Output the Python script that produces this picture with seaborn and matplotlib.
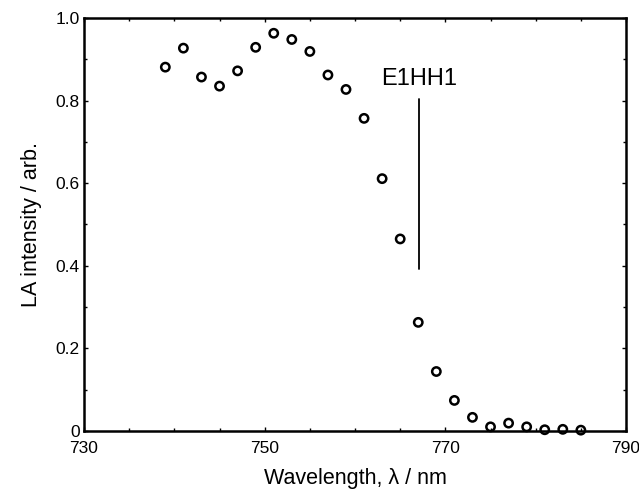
import numpy as np
import pandas as pd
import matplotlib
matplotlib.use("Agg")
import matplotlib.pyplot as plt
from matplotlib.ticker import MultipleLocator, FixedLocator, FuncFormatter
import seaborn as sns

# data
wavelength = [739, 741, 743, 745, 747, 749, 751, 753, 755, 757, 759, 761,
              763, 765, 767, 769, 771, 773, 775, 777, 779, 781, 783, 785]
intensity = [0.881, 0.927, 0.857, 0.835, 0.872, 0.929, 0.963, 0.948, 0.919,
             0.862, 0.827, 0.757, 0.611, 0.465, 0.263, 0.144, 0.074, 0.033,
             0.010, 0.019, 0.010, 0.003, 0.004, 0.002]
x_ticks = [730, 750, 770, 790]
marker_x = 767.1
marker_y = [0.392, 0.803]
marker_label = "E1HH1"

df = pd.DataFrame({"wl": wavelength, "la": intensity})

sns.set_style("ticks")
plt.rcParams['font.family'] = ['Liberation Sans', 'DejaVu Sans']
plt.rcParams['xtick.direction'] = 'in'
plt.rcParams['ytick.direction'] = 'in'
plt.rcParams['text.color'] = 'black'
plt.rcParams['axes.labelcolor'] = 'black'
plt.rcParams['xtick.color'] = 'black'
plt.rcParams['ytick.color'] = 'black'

fig = plt.figure(figsize=(6.39, 4.93), dpi=100)
ax = fig.add_axes([0.1315, 0.1258, 0.8482, 0.8377])

sns.scatterplot(data=df, x="wl", y="la", ax=ax, marker="o", s=36,
                facecolor="none", edgecolor="black", linewidth=1.8, zorder=3,
                clip_on=False)

ax.plot([marker_x, marker_x], marker_y, color="black", linewidth=1.3)
ax.text(marker_x, 0.826, marker_label, ha="center", va="bottom", fontsize=17)

ax.set_xlim(730, 790)
ax.set_ylim(0, 1.0)
ax.xaxis.set_major_locator(FixedLocator(x_ticks))
ax.xaxis.set_minor_locator(MultipleLocator(5))
ax.yaxis.set_major_locator(MultipleLocator(0.2))
ax.yaxis.set_minor_locator(MultipleLocator(0.1))
ax.yaxis.set_major_formatter(FuncFormatter(lambda v, p: "0" if abs(v) < 1e-9 else f"{v:.1f}"))

ax.tick_params(which="both", top=True, right=True, labelsize=12.5)
ax.tick_params(axis="x", which="major", pad=7)
ax.tick_params(axis="y", which="major", pad=3)
ax.tick_params(which="major", length=3, width=1)
ax.tick_params(which="minor", length=2, width=1)
for sp in ax.spines.values():
    sp.set_linewidth(1.8)
    sp.set_color("black")

ax.set_xlabel("Wavelength, λ / nm", fontsize=15.5, labelpad=9)
ax.set_ylabel("LA intensity / arb.", fontsize=15.5, labelpad=10)

fig.savefig("out.png", dpi=100)
